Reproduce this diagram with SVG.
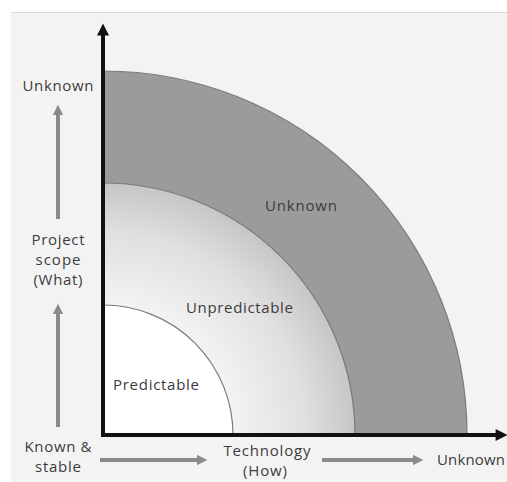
<svg xmlns="http://www.w3.org/2000/svg" width="507" height="482" viewBox="0 0 507 482">
  <style>
    .lbl { font-family: "Open Sans", "Liberation Sans", sans-serif; font-size: 15px; fill: #3c3c3c; }
    .mid { text-anchor: middle; }
    .arc { fill: none; stroke: #7a7a7a; stroke-width: 1.2; }
    .axis { stroke: #111; stroke-width: 4; fill: none; }
    .dir { stroke: #8a8a8a; stroke-width: 4; fill: none; }
  </style>
  <defs>
    <radialGradient id="midFill" gradientUnits="userSpaceOnUse" cx="103" cy="435" r="252">
      <stop offset="0.5" stop-color="#f4f4f4"/>
      <stop offset="0.8" stop-color="#e0e0e0"/>
      <stop offset="1" stop-color="#c6c6c6"/>
    </radialGradient>
    <marker id="axisHead" viewBox="0 0 10 10" refX="2" refY="5" markerWidth="3.4" markerHeight="3" orient="auto" markerUnits="strokeWidth">
      <path d="M0,0 L10,5 L0,10 Z" fill="#111"/>
    </marker>
    <marker id="dirHead" viewBox="0 0 10 10" refX="2" refY="5" markerWidth="2.8" markerHeight="2.6" orient="auto" markerUnits="strokeWidth">
      <path d="M0,0 L10,5 L0,10 Z" fill="#8a8a8a"/>
    </marker>
  </defs>

  <!-- page -->
  <rect x="0" y="0" width="507" height="482" fill="#ffffff"/>
  <rect x="11" y="12" width="496" height="470" fill="#f3f3f3"/>
  <line x1="11" y1="12.5" x2="507" y2="12.5" stroke="#d6d6d6" stroke-width="1"/>

  <!-- zones -->
  <g id="zone-unknown">
    <path d="M103,435 L103,71 A364,364 0 0 1 467,435 Z" fill="#9b9b9b"/>
    <path class="arc" d="M103,71 A364,364 0 0 1 467,435"/>
    <text class="lbl" x="265" y="211" textLength="72">Unknown</text>
  </g>
  <g id="zone-unpredictable">
    <path d="M103,435 L103,183 A252,252 0 0 1 355,435 Z" fill="url(#midFill)"/>
    <path class="arc" d="M103,183 A252,252 0 0 1 355,435"/>
    <text class="lbl" x="186" y="313" textLength="107">Unpredictable</text>
  </g>
  <g id="zone-predictable">
    <path d="M103,435 L103,305 A130,130 0 0 1 233,435 Z" fill="#ffffff"/>
    <path class="arc" d="M103,305 A130,130 0 0 1 233,435"/>
    <text class="lbl" x="113" y="390" textLength="86">Predictable</text>
  </g>

  <!-- axis labels -->
  <g id="label-scope-top">
    <text class="lbl mid" x="58" y="91" textLength="71">Unknown</text>
  </g>
  <g id="label-scope">
    <text class="lbl mid" x="58" y="245" textLength="53">Project</text>
    <text class="lbl mid" x="58" y="265" textLength="45">scope</text>
    <text class="lbl mid" x="58" y="285" textLength="49">(What)</text>
  </g>
  <g id="label-origin">
    <text class="lbl mid" x="58" y="452" textLength="67">Known &amp;</text>
    <text class="lbl mid" x="58" y="472" textLength="46">stable</text>
  </g>
  <g id="label-technology">
    <text class="lbl mid" x="267" y="456" textLength="87">Technology</text>
    <text class="lbl mid" x="265" y="476" textLength="44">(How)</text>
  </g>
  <g id="label-tech-right">
    <text class="lbl" x="437" y="465" textLength="68">Unknown</text>
  </g>

  <!-- axes and direction arrows -->
  <g id="connectors">
    <path class="axis" d="M103,437 L103,33" marker-end="url(#axisHead)"/>
    <path class="axis" d="M101,435 L498,435" marker-end="url(#axisHead)"/>
    <path class="dir" d="M58,427 L58,312" marker-end="url(#dirHead)"/>
    <path class="dir" d="M58,219 L58,113" marker-end="url(#dirHead)"/>
    <path class="dir" d="M100,460 L199,460" marker-end="url(#dirHead)"/>
    <path class="dir" d="M322,460 L415,460" marker-end="url(#dirHead)"/>
  </g>
</svg>
